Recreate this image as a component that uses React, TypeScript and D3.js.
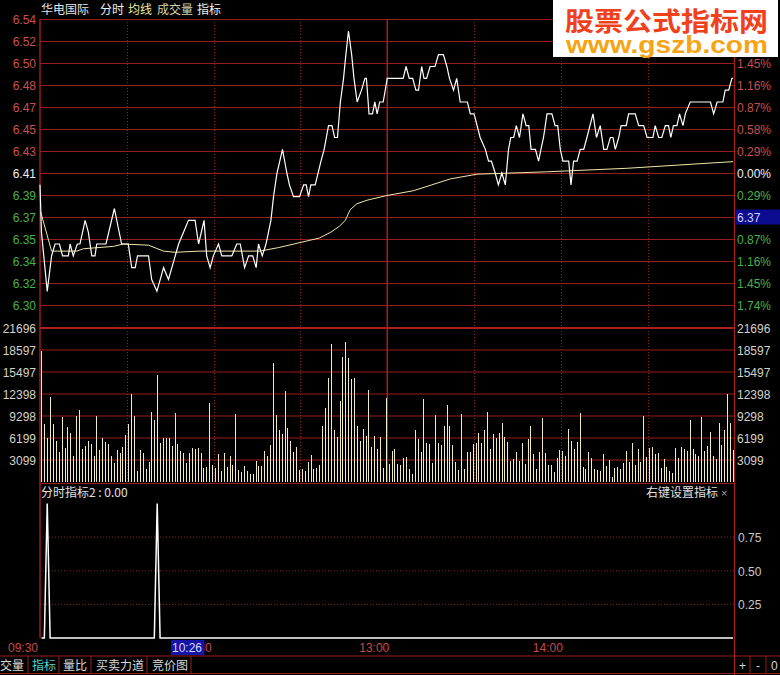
import React from 'react';
import * as d3 from 'd3';

const PREV_CLOSE = 6.41;
const pctTicks = [2.03, 1.74, 1.45, 1.16, 0.87, 0.58, 0.29, 0, -0.29, -0.58, -0.87, -1.16, -1.45, -1.74];
const priceTickLabels = ['6.54', '6.52', '6.50', '6.48', '6.47', '6.45', '6.43', '6.41', '6.39', '6.37', '6.35', '6.34', '6.32', '6.30'];
const pctTickLabels = ['', '', '1.45%', '1.16%', '0.87%', '0.58%', '0.29%', '0.00%', '0.29%', '0.58%', '0.87%', '1.16%', '1.45%', '1.74%'];
const cursorPrice = '6.37';
const cursorPct = -0.58;
const cursorTime = '10:26';
const volTicks = [21696, 18597, 15497, 12398, 9298, 6199, 3099];
const VOL_MAX = 21696;
const indTicks = [0.75, 0.5, 0.25];
const gridMinutes = [29.5, 59.5, 89.5, 149.5, 179.5, 209.5];
const noonMinute = 119.5;
const timeLabels = ['09:30', '10:30', '13:00', '14:00'];
const timeLabelMinutes = [-0.5, 59.5, 119.5, 179.5];
const headerItems = ['华电国际', '分时', '均线', '成交量', '指标'];
const tabItems = ['交量', '指标', '量比', '买卖力道', '竞价图'];
const indicatorTitle = '分时指标2 : 0.00';
const indicatorHint = '右键设置指标';

const pricePoints: [number, number][] = [
  [-0.5, 6.40], [0, 6.36], [2, 6.31], [3.5, 6.34], [4.7, 6.35], [6.2, 6.35], [7.3, 6.34], [9.3, 6.34], [9.9, 6.35],
  [11, 6.34], [12.4, 6.35], [13.3, 6.35], [15.1, 6.37], [16.2, 6.36], [17.4, 6.34], [18.5, 6.34], [19.1, 6.35],
  [22.3, 6.35], [25.2, 6.38], [27.7, 6.35], [30, 6.35], [31.2, 6.33], [32.4, 6.33], [33.2, 6.34], [37, 6.34],
  [38.1, 6.32], [39.9, 6.31], [42.2, 6.33], [43.9, 6.32], [47.4, 6.35], [49.1, 6.36], [50.8, 6.37], [53.1, 6.37],
  [54.3, 6.35], [56.2, 6.37], [57.1, 6.34], [58.3, 6.33], [59.4, 6.34], [61.2, 6.35], [62.3, 6.34], [65.8, 6.34],
  [67.5, 6.35], [68.7, 6.35], [70.2, 6.33], [71.6, 6.34], [73, 6.34], [74.2, 6.33], [75, 6.35], [76.3, 6.34],
  [77.6, 6.35], [79.3, 6.37], [80.2, 6.39], [81.4, 6.41], [83.3, 6.43], [84.8, 6.41], [85.7, 6.40], [87.1, 6.39],
  [89.2, 6.39], [90.6, 6.40], [91.5, 6.40], [92.3, 6.39], [93.1, 6.40], [94.6, 6.40], [96.6, 6.42], [97.7, 6.43],
  [99.2, 6.45], [100.4, 6.45], [101.3, 6.44], [102.3, 6.44], [103.3, 6.47], [104.4, 6.49], [105.2, 6.51],
  [106.1, 6.53], [107.2, 6.51], [108, 6.49], [109.1, 6.47], [110.6, 6.48], [111.8, 6.49], [112.3, 6.49],
  [113.2, 6.46], [114.4, 6.46], [115.2, 6.47], [116, 6.46], [116.9, 6.47], [118.1, 6.47], [119.5, 6.49],
  [120.4, 6.49], [125, 6.49], [126, 6.50], [127.1, 6.49], [128.3, 6.49], [129.4, 6.48], [130.3, 6.48],
  [131.4, 6.50], [132.2, 6.49], [133.1, 6.49], [134.3, 6.50], [136, 6.50], [137.2, 6.51], [138.9, 6.51],
  [140.1, 6.50], [141, 6.49], [142.4, 6.48], [143.5, 6.49], [144.7, 6.47], [147.2, 6.47], [148.2, 6.46],
  [149.5, 6.46], [151.6, 6.44], [153.4, 6.43], [154.5, 6.42], [155.5, 6.42], [156.8, 6.41], [157.9, 6.40],
  [159.1, 6.41], [160.3, 6.40], [161.4, 6.43], [162.2, 6.44], [163.2, 6.44], [164.1, 6.45], [165.2, 6.44],
  [166.4, 6.46], [167.5, 6.45], [168.4, 6.45], [169.2, 6.43], [170.7, 6.43], [171.8, 6.42], [172.6, 6.43],
  [173.5, 6.44], [174.7, 6.46], [176.4, 6.46], [177.5, 6.45], [178.4, 6.45], [179.3, 6.43], [180.2, 6.42],
  [182.2, 6.42], [183, 6.40], [183.9, 6.42], [185.1, 6.42], [186.2, 6.43], [187.4, 6.43], [188.5, 6.44],
  [190.6, 6.46], [191.8, 6.44], [193.1, 6.45], [194.3, 6.43], [195.4, 6.43], [196.6, 6.44], [197.5, 6.44],
  [198.3, 6.43], [199.5, 6.44], [200.3, 6.45], [202.1, 6.45], [202.9, 6.46], [205.2, 6.46], [206.4, 6.45],
  [208.1, 6.45], [209.3, 6.44], [211.3, 6.44], [212.1, 6.45], [213.3, 6.44], [214.4, 6.44], [215.6, 6.45],
  [216.7, 6.45], [217.5, 6.44], [218.4, 6.45], [219.6, 6.45], [220.5, 6.46], [221.7, 6.45], [222.5, 6.46],
  [224.2, 6.47], [231.2, 6.47], [232.3, 6.46], [233.5, 6.47], [235.5, 6.47], [236.3, 6.48], [237.5, 6.48],
  [238.6, 6.49], [239, 6.49],
];

const avgPoints: [number, number][] = [
  [-0.25, 6.377], [3.5, 6.344], [12.2, 6.344], [14.5, 6.346], [24.9, 6.348], [28.3, 6.35], [37, 6.349],
  [42.2, 6.344], [46.2, 6.343], [54.8, 6.344], [75.5, 6.344], [82, 6.347], [89, 6.351], [96, 6.355],
  [100, 6.36], [103, 6.365], [105, 6.37], [106.7, 6.379], [109, 6.384], [112.5, 6.387], [119.4, 6.391],
  [128.5, 6.395], [134.9, 6.4], [141.3, 6.405], [150.5, 6.409], [174.5, 6.411], [202.5, 6.414], [239, 6.4196],
];

const volumes = [
  18400, 8200, 6200, 12000, 8200, 5800, 4200, 9200, 4800, 7800,
  6900, 3700, 9300, 10200, 4700, 5100, 5800, 5400, 3700, 9300,
  4500, 6200, 5600, 5400, 3700, 2700, 4500, 4100, 4900, 6600,
  8200, 12400, 9300, 1600, 4500, 4100, 1800, 2800, 9900, 8700,
  15100, 5500, 6200, 6200, 6200, 5100, 9700, 5400, 4400, 4100,
  2700, 4100, 4800, 4700, 4800, 4100, 2000, 2100, 11100, 2400,
  2000, 3900, 1600, 4100, 2100, 3700, 2400, 9600, 1700, 1400,
  2300, 1600, 1100, 1100, 3000, 2300,
  2300, 4400, 3700, 5200, 16800, 9400, 7300, 6800, 12800, 7600,
  5800, 4200, 4900, 1700, 1800, 1600, 2800, 3800, 1800, 2000,
  2400, 7900, 10400, 14700, 19500, 7300, 6300, 11400, 17600, 19700,
  17500, 14500, 14700, 7900, 5800, 7500, 6500, 13000, 4900, 6500,
  4700, 6300, 2000, 11800, 2500, 4400, 4700, 2500, 2400, 3400,
  3500, 1800, 1100, 7300, 6100, 4200, 11700, 5500, 5400, 2700,
  9400, 5500, 5200, 7900, 10900, 7900, 5200, 2800, 1700, 9600,
  1800, 4200, 4200, 5400, 5500, 6900, 5500, 7300, 9900, 4700,
  6800, 6200, 6900, 8300, 6300, 5600, 3000, 3200, 4200, 3000,
  5500, 2500, 6100, 7900, 3900, 1800, 4200, 9000, 4100, 2400,
  2400, 1400, 3400, 4500, 4400, 3700, 7500, 5800, 4700, 5600,
  9700, 2100, 1800, 4200, 3400, 1800, 1700, 1600, 3900, 2300,
  3100, 700, 2000, 2100, 1800, 2700, 4400, 2800, 5500, 2400,
  4700, 2800, 9300, 3500, 4800, 4900, 3900, 4100, 2000, 3200,
  2100, 1600, 1300, 4800, 3400, 4900, 4700, 4400, 8700, 4700,
  3900, 3700, 9200, 4400, 5100, 7100, 3700, 3200, 8300, 5200,
  7300, 12400, 8300, 4500,
];

const indMinutes = [0, 1, 2, 3, 39, 40, 41, 239];
const indValues = [0, 0, 1, 0, 0, 1, 0, 0];

const W = 780;
const H = 675;
const LEFT = 40;
const RIGHT = 734.5;
const RED = '#9a1c1c';
const RED_DOT = '#8a2424';
const NUM_FONT = '"Liberation Sans", Arial, sans-serif';
const CJK_FONT = '"Noto Sans CJK SC", "Noto Sans", sans-serif';

export default function App() {
  const x = d3.scaleLinear().domain([-0.5, 239.5]).range([LEFT, RIGHT]);
  const yPrice = d3
    .scaleLinear()
    .domain([PREV_CLOSE * (1 - 0.0203), PREV_CLOSE * (1 + 0.0203)])
    .range([327, 19]);
  const yVol = d3.scaleLinear().domain([0, VOL_MAX]).range([482, 328]);
  const yInd = d3.scaleLinear().domain([0, 1]).range([638, 503.5]);

  const priceLine = d3
    .line<[number, number]>()
    .x((d) => x(d[0]))
    .y((d) => yPrice(d[1]));
  const indLine = d3
    .line<number>()
    .x((_, i) => x(indMinutes[i]))
    .y((d) => yInd(d));

  const pctY = (p: number) => yPrice(PREV_CLOSE * (1 + p / 100));
  const labelColor = (p: number) => (p > 0 ? '#c85050' : p < 0 ? '#48b048' : '#f0f0f0');

  return (
    <svg
      width={W}
      height={H}
      style={{ position: 'fixed', left: 0, top: 0, display: 'block', background: '#000' }}
    >
      <rect x={0} y={0} width={W} height={H} fill="#000" />

      {/* header */}
      <g fontFamily={CJK_FONT} fontSize={12}>
        <text x={41} y={14} fill="#e6e6e6">{headerItems[0]}</text>
        <text x={100} y={14} fill="#f0f0f0">{headerItems[1]}</text>
        <text x={128} y={14} fill="#f0eaa0">{headerItems[2]}</text>
        <text x={157} y={14} fill="#d8d0a8">{headerItems[3]}</text>
        <text x={197} y={14} fill="#f0f0f0">{headerItems[4]}</text>
      </g>

      {/* price grid */}
      {pctTicks.map((p, i) => (
        <line key={'pg' + i} x1={LEFT} x2={RIGHT} y1={Math.round(pctY(p)) + 0.5} y2={Math.round(pctY(p)) + 0.5} stroke={RED} strokeWidth={1} />
      ))}
      {/* volume grid */}
      {volTicks.map((v, i) => (
        <line
          key={'vg' + i}
          x1={LEFT}
          x2={RIGHT}
          y1={yVol(v)}
          y2={yVol(v)}
          stroke={i === 0 ? '#b01e1e' : RED}
          strokeWidth={i === 0 ? 2 : 1}
        />
      ))}
      <line x1={LEFT} x2={RIGHT} y1={483.5} y2={483.5} stroke={RED} strokeWidth={1} />
      {/* indicator grid */}
      {indTicks.map((v, i) => (
        <line
          key={'ig' + i}
          x1={LEFT}
          x2={RIGHT}
          y1={yInd(v)}
          y2={yInd(v)}
          stroke={RED_DOT}
          strokeWidth={1}
          strokeDasharray="1,2"
        />
      ))}
      {/* vertical grid */}
      {gridMinutes.map((m, i) => (
        <line
          key={'vx' + i}
          x1={Math.round(x(m)) + 0.5}
          x2={Math.round(x(m)) + 0.5}
          y1={19}
          y2={482}
          stroke={RED_DOT}
          strokeWidth={1}
          strokeDasharray="1,2"
        />
      ))}
      <line x1={x(noonMinute)} x2={x(noonMinute)} y1={19} y2={482} stroke="#a81c2c" strokeWidth={1.5} />

      {/* borders */}
      <line x1={LEFT} x2={LEFT} y1={19} y2={638} stroke={RED} strokeWidth={1.5} />
      <line x1={RIGHT} x2={RIGHT} y1={0} y2={H} stroke={RED} strokeWidth={1.5} />
      <line x1={0} x2={W} y1={656} y2={656} stroke={RED} strokeWidth={1} />
      <line x1={0} x2={W} y1={673.5} y2={673.5} stroke={RED} strokeWidth={1} />

      {/* price axis labels */}
      <g fontFamily={NUM_FONT} fontSize={12}>
        {pctTicks.map((p, i) => (
          <text key={'pl' + i} x={36} y={pctY(p) + 5} textAnchor="end" fill={labelColor(p)}>
            {priceTickLabels[i]}
          </text>
        ))}
        {pctTicks.map((p, i) =>
          p === cursorPct || !pctTickLabels[i] ? null : (
            <text key={'pr' + i} x={737} y={pctY(p) + 5} fill={labelColor(p)}>
              {pctTickLabels[i]}
            </text>
          )
        )}
        <rect x={735.5} y={pctY(cursorPct) - 7.5} width={44.5} height={15} fill="#0c0c90" />
        <text x={737} y={pctY(cursorPct) + 5} fill="#d0d0ff">{cursorPrice}</text>

        {volTicks.map((v, i) => (
          <g key={'vl' + i}>
            <text x={36} y={yVol(v) + 5} textAnchor="end" fill="#d6d2c6">{v}</text>
            <text x={737} y={yVol(v) + 5} fill="#d6d2c6">{v}</text>
          </g>
        ))}
        {indTicks.map((v, i) => (
          <text key={'il' + i} x={738} y={yInd(v) + 5} fill="#c8c8c8">{v.toFixed(2)}</text>
        ))}
      </g>

      {/* volume bars */}
      {volumes.map((v, i) => (
        <rect
          key={'vb' + i}
          x={Math.round(x(i))}
          y={yVol(v)}
          width={1}
          height={yVol(0) - yVol(v)}
          fill="#f2eac0"
          shapeRendering="crispEdges"
        />
      ))}

      {/* average + price lines */}
      <path d={priceLine(avgPoints) || ''} fill="none" stroke="#f2e6a6" strokeWidth={1} />
      <path d={priceLine(pricePoints) || ''} fill="none" stroke="#ffffff" strokeWidth={1.2} />

      {/* indicator */}
      <path d={indLine(indValues) || ''} fill="none" stroke="#ffffff" strokeWidth={1.5} />
      <text x={41} y={497} fontFamily={CJK_FONT} fontSize={12} fill="#e0e0e0">{indicatorTitle}</text>
      <text x={646} y={497} fontFamily={CJK_FONT} fontSize={12} fill="#e0e0e0">{indicatorHint}</text>
      <text x={721} y={497} fontFamily={NUM_FONT} fontSize={11} fill="#a0a0a0">×</text>

      {/* time labels */}
      <g fontFamily={NUM_FONT} fontSize={12} fill="#c84a4a">
        {timeLabels.map((t, i) => (
          <text
            key={'tl' + i}
            x={i === 0 ? 38 : i === 1 ? x(timeLabelMinutes[i]) - 2 : x(timeLabelMinutes[i]) + 2}
            y={652}
            textAnchor="end"
          >
            {t}
          </text>
        ))}
      </g>
      <rect x={171} y={640} width={33.5} height={15} fill="#1414a8" />
      <text x={172} y={652} fontFamily={NUM_FONT} fontSize={12} fill="#d8d8ff">{cursorTime}</text>

      {/* bottom tabs */}
      <g fontFamily={CJK_FONT} fontSize={12}>
        <text x={0} y={670} fill="#d8d8d8">{tabItems[0]}</text>
        <text x={32} y={670} fill="#58d0d0">{tabItems[1]}</text>
        <text x={63} y={670} fill="#d8d8d8">{tabItems[2]}</text>
        <text x={96} y={670} fill="#d8d8d8">{tabItems[3]}</text>
        <text x={152} y={670} fill="#d8d8d8">{tabItems[4]}</text>
      </g>
      {[28, 59, 91, 147, 191, 750, 766].map((sx, i) => (
        <line key={'sep' + i} x1={sx} x2={sx} y1={656} y2={673} stroke={RED} strokeWidth={1} />
      ))}
      <g fontFamily={NUM_FONT} fontSize={12} fill="#d8d8d8">
        <text x={739} y={670}>+</text>
        <text x={756} y={670}>-</text>
        <text x={771} y={670}>0</text>
      </g>

      {/* watermark */}
      <rect x={553} y={0} width={225} height={57} fill="#ffffff" />
      <text
        x={565}
        y={31}
        fontFamily={CJK_FONT}
        fontWeight="bold"
        fontSize={26}
        fill="#f0401c"
        textLength={203}
        lengthAdjust="spacingAndGlyphs"
      >
        股票公式指标网
      </text>
      <text
        x={566}
        y={53}
        fontFamily={NUM_FONT}
        fontWeight="bold"
        fontSize={24}
        fill="#f5a416"
        textLength={202}
        lengthAdjust="spacingAndGlyphs"
      >
        www.gszb.com
      </text>
    </svg>
  );
}
